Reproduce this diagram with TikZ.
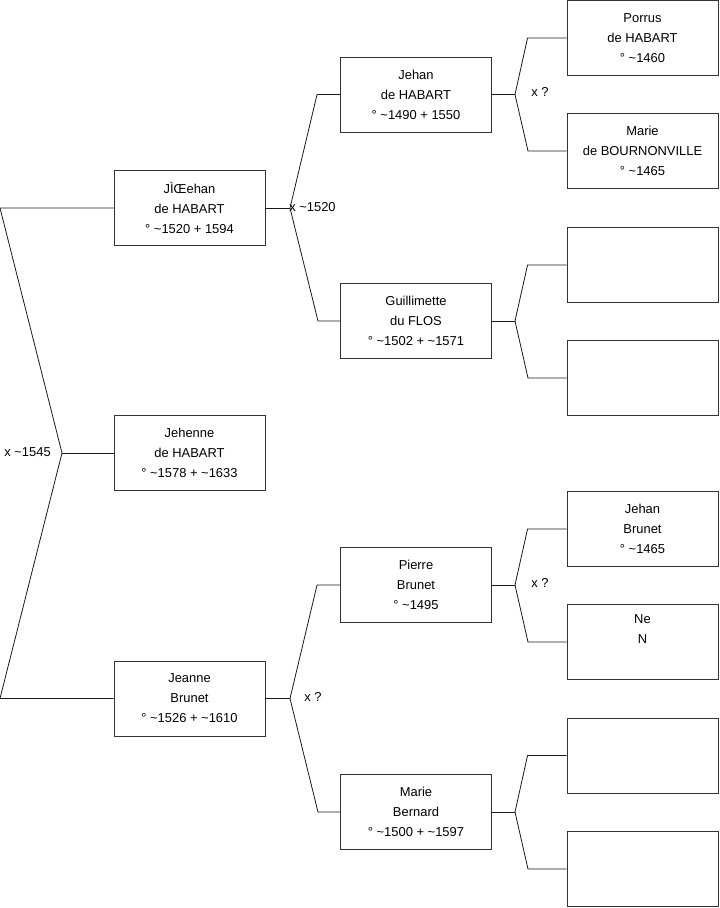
\documentclass[tikz,border=0pt]{standalone}
\usepackage{fontspec}
\setmainfont{Liberation Sans}
\usetikzlibrary{positioning}

\tikzset{
  person/.style={draw=black!80, line width=0.7pt, minimum width=113.25pt, minimum height=56.25pt,
    align=center, inner sep=0pt, font=\fontsize{9.7}{15}\selectfont},
  link/.style={draw=black!90, line width=0.6pt},
  union/.style={inner sep=0pt, font=\fontsize{9.7}{11}\selectfont}
}

\begin{document}
\begin{tikzpicture}[x=0.75pt,y=-0.75pt]
    \useasboundingbox (0,0) rectangle (719,908);

    % generation 1
    \node[person] (jehan1)  at (189.5,208) {JÌŒehan\\de HABART\\° \textasciitilde1520 + 1594};
    \node[person] (jehenne) at (189.5,453) {Jehenne\\de HABART\\° \textasciitilde1578 + \textasciitilde1633};
    \node[person] (jeanne)  at (189.5,698.5) {Jeanne\\Brunet\\° \textasciitilde1526 + \textasciitilde1610};

    % generation 2
    \node[person] (jehan2)  at (416,94.5)  {Jehan\\de HABART\\° \textasciitilde1490 + 1550};
    \node[person] (guill)   at (416,321)   {Guillimette\\du FLOS\\° \textasciitilde1502 + \textasciitilde1571};
    \node[person] (pierre)  at (416,585)   {Pierre\\Brunet\\° \textasciitilde1495};
    \node[person] (marieb)  at (416,812)   {Marie\\Bernard\\° \textasciitilde1500 + \textasciitilde1597};

    % generation 3
    \node[person] (porrus)  at (642.5,38)  {Porrus\\de HABART\\° \textasciitilde1460};
    \node[person] (mariebo) at (642.5,151) {Marie\\de BOURNONVILLE\\° \textasciitilde1465};
    \node[person] (empty1)  at (642.5,265) {};
    \node[person] (empty2)  at (642.5,378) {};
    \node[person] (jehanb)  at (642.5,529) {Jehan\\Brunet\\° \textasciitilde1465};
    \node[person] (nen)     at (642.5,642) {Ne\\N\\\strut};
    \node[person] (empty3)  at (642.5,755.5) {};
    \node[person] (empty4)  at (642.5,869) {};

    % fork points
    \coordinate (top1) at (0,208);
    \coordinate (mid1) at (62,453);
    \coordinate (bot1) at (0,698.5);
    \coordinate (f2) at (290,208);
    \coordinate (f3) at (290,698.5);
    \coordinate (f4) at (515,94.5);
    \coordinate (f5) at (515,321);
    \coordinate (f6) at (515,585);
    \coordinate (f7) at (515,812);

    % connectors
    \draw[link] (jehan1.west) -- (top1) -- (mid1) -- (bot1) -- (jeanne.west);
    \draw[link] (mid1) -- (jehenne.west);

    \draw[link] (jehan1.east) -- (f2);
    \draw[link] (jehan2.west) -- ++(-23,0) -- (f2) -- (318,321) -- (guill.west);
    \draw[link] (jeanne.east) -- (f3);
    \draw[link] (pierre.west) -- ++(-23,0) -- (f3) -- (318,812) -- (marieb.west);

    \draw[link] (jehan2.east) -- (f4);
    \draw[link] (porrus.west) -- ++(-39,0) -- (f4) -- (528,151) -- (mariebo.west);
    \draw[link] (guill.east) -- (f5);
    \draw[link] (empty1.west) -- ++(-39,0) -- (f5) -- (528,378) -- (empty2.west);
    \draw[link] (pierre.east) -- (f6);
    \draw[link] (jehanb.west) -- ++(-39,0) -- (f6) -- (528,642) -- (nen.west);
    \draw[link] (marieb.east) -- (f7);
    \draw[link] (empty3.west) -- ++(-39,0) -- (f7) -- (528,869) -- (empty4.west);

    % unions
    \node[union, anchor=east] (u1) at (51,452) {x \textasciitilde1545};
    \node[union, anchor=west] (u2) at (289,207) {x \textasciitilde1520};
    \node[union, anchor=west] (u3) at (531,92)  {x ?};
    \node[union, anchor=west] (u4) at (304,697) {x ?};
    \node[union, anchor=west] (u5) at (531,583) {x ?};
\end{tikzpicture}
\end{document}
